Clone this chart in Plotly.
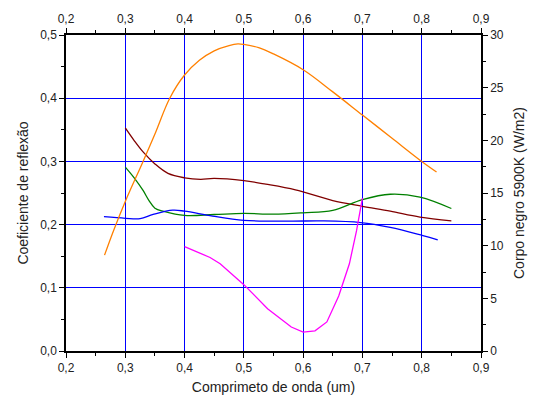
import plotly.graph_objects as go

# Blackbody 5900K (right axis, W/m2)
bb_x = [0.265, 0.28, 0.3, 0.33, 0.35, 0.375, 0.4, 0.425, 0.45, 0.475, 0.49, 0.5, 0.525, 0.55, 0.6, 0.65, 0.7, 0.75, 0.8, 0.825]
bb_y = [9.1, 11.4, 14.2, 18.0, 20.6, 24.0, 26.2, 27.6, 28.5, 29.0, 29.15, 29.1, 28.8, 28.2, 26.7, 24.6, 22.4, 20.2, 18.0, 17.0]

# Reflection curves (left axis)
red_x = [0.3, 0.315, 0.33, 0.35, 0.372, 0.4, 0.427, 0.45, 0.5, 0.537, 0.587, 0.65, 0.7, 0.747, 0.797, 0.85]
red_y = [0.353, 0.333, 0.315, 0.296, 0.281, 0.274, 0.2716, 0.273, 0.2695, 0.264, 0.255, 0.238, 0.229, 0.2213, 0.212, 0.2058]

green_x = [0.3, 0.315, 0.33, 0.34, 0.35, 0.365, 0.4, 0.45, 0.5, 0.55, 0.6, 0.65, 0.7, 0.747, 0.797, 0.85]
green_y = [0.291, 0.274, 0.254, 0.238, 0.226, 0.221, 0.2146, 0.216, 0.2177, 0.2165, 0.2187, 0.2224, 0.2395, 0.248, 0.2435, 0.2255]

blue_x = [0.264, 0.3, 0.325, 0.347, 0.38, 0.4, 0.447, 0.5, 0.58, 0.631, 0.697, 0.747, 0.802, 0.827]
blue_y = [0.2125, 0.210, 0.2094, 0.216, 0.2228, 0.2213, 0.2135, 0.2068, 0.2055, 0.2058, 0.2032, 0.1955, 0.1825, 0.176]

mag_x = [0.4, 0.443, 0.46, 0.5, 0.54, 0.58, 0.6, 0.62, 0.64, 0.66, 0.678, 0.69, 0.7]
mag_y = [0.165, 0.148, 0.138, 0.105, 0.067, 0.038, 0.030, 0.032, 0.046, 0.087, 0.138, 0.19, 0.242]

x_ticks = [0.2, 0.3, 0.4, 0.5, 0.6, 0.7, 0.8, 0.9]

font = "Liberation Sans, Arial, sans-serif"
fig = go.Figure()

fig.add_trace(go.Scatter(x=bb_x, y=bb_y, mode="lines", line=dict(color="#FF8000", width=1.3, shape="spline"),
                         xaxis="x", yaxis="y2", showlegend=False))
fig.add_trace(go.Scatter(x=red_x, y=red_y, mode="lines", line=dict(color="#800000", width=1.3, shape="spline"),
                         showlegend=False))
fig.add_trace(go.Scatter(x=green_x, y=green_y, mode="lines", line=dict(color="#008000", width=1.3, shape="spline"),
                         showlegend=False))
fig.add_trace(go.Scatter(x=blue_x, y=blue_y, mode="lines", line=dict(color="#0000FF", width=1.3, shape="spline"),
                         showlegend=False))
fig.add_trace(go.Scatter(x=mag_x, y=mag_y, mode="lines", line=dict(color="#FF00FF", width=1.3),
                         showlegend=False))
# invisible trace for top axis
fig.add_trace(go.Scatter(x=[0.2, 0.9], y=[0, 0], mode="lines", line=dict(width=0), opacity=0,
                         xaxis="x2", yaxis="y", showlegend=False, hoverinfo="skip"))

tickfont = dict(family=font, size=12, color="#222222")
fig.update_layout(
    width=537, height=405,
    margin=dict(l=66, r=47, t=31, b=53),
    paper_bgcolor="white", plot_bgcolor="white",
    separators=", ",
    font=dict(family=font, color="#222222"),
    xaxis=dict(range=[0.2, 0.9], tickvals=x_ticks, tickformat=".1f", showgrid=True, gridcolor="#0000FF",
               gridwidth=1, showline=True, linecolor="black", linewidth=1.5, ticks="outside", ticklen=5,
               tickcolor="black", tickfont=tickfont, zeroline=False,
               minor=dict(dtick=0.05, tick0=0.2, ticks="outside", ticklen=3, tickcolor="black", showgrid=False),
               title=dict(text="Comprimeto de onda (um)", font=dict(family=font, size=14, color="#222222"), standoff=8)),
    xaxis2=dict(range=[0.2, 0.9], tickvals=x_ticks, tickformat=".1f", overlaying="x", side="top", anchor="y",
                showgrid=False, showline=True, linecolor="black", linewidth=1.5, ticks="outside", ticklen=5,
                tickcolor="black", tickfont=tickfont, zeroline=False,
                minor=dict(dtick=0.05, tick0=0.2, ticks="outside", ticklen=3, tickcolor="black", showgrid=False)),
    yaxis=dict(range=[0, 0.5], dtick=0.1, tickformat=".1f", showgrid=True, gridcolor="#0000FF", gridwidth=1,
               showline=True, linecolor="black", linewidth=1.5, ticks="outside", ticklen=5, tickcolor="black",
               tickfont=tickfont, zeroline=False,
               minor=dict(dtick=0.05, ticks="outside", ticklen=3, tickcolor="black", showgrid=False),
               title=dict(text="Coeficiente de reflexão", font=dict(family=font, size=14, color="#222222"), standoff=8)),
    yaxis2=dict(range=[0, 30], dtick=5, overlaying="y", side="right", anchor="x", showgrid=False,
                showline=True, linecolor="black", linewidth=1.5, ticks="outside", ticklen=5, tickcolor="black",
                tickfont=tickfont, zeroline=False,
                minor=dict(dtick=2.5, ticks="outside", ticklen=3, tickcolor="black", showgrid=False),
                title=dict(text="Corpo negro 5900K (W/m2)", font=dict(family=font, size=14, color="#222222"), standoff=11)),
)

fig.write_html("out.html")
